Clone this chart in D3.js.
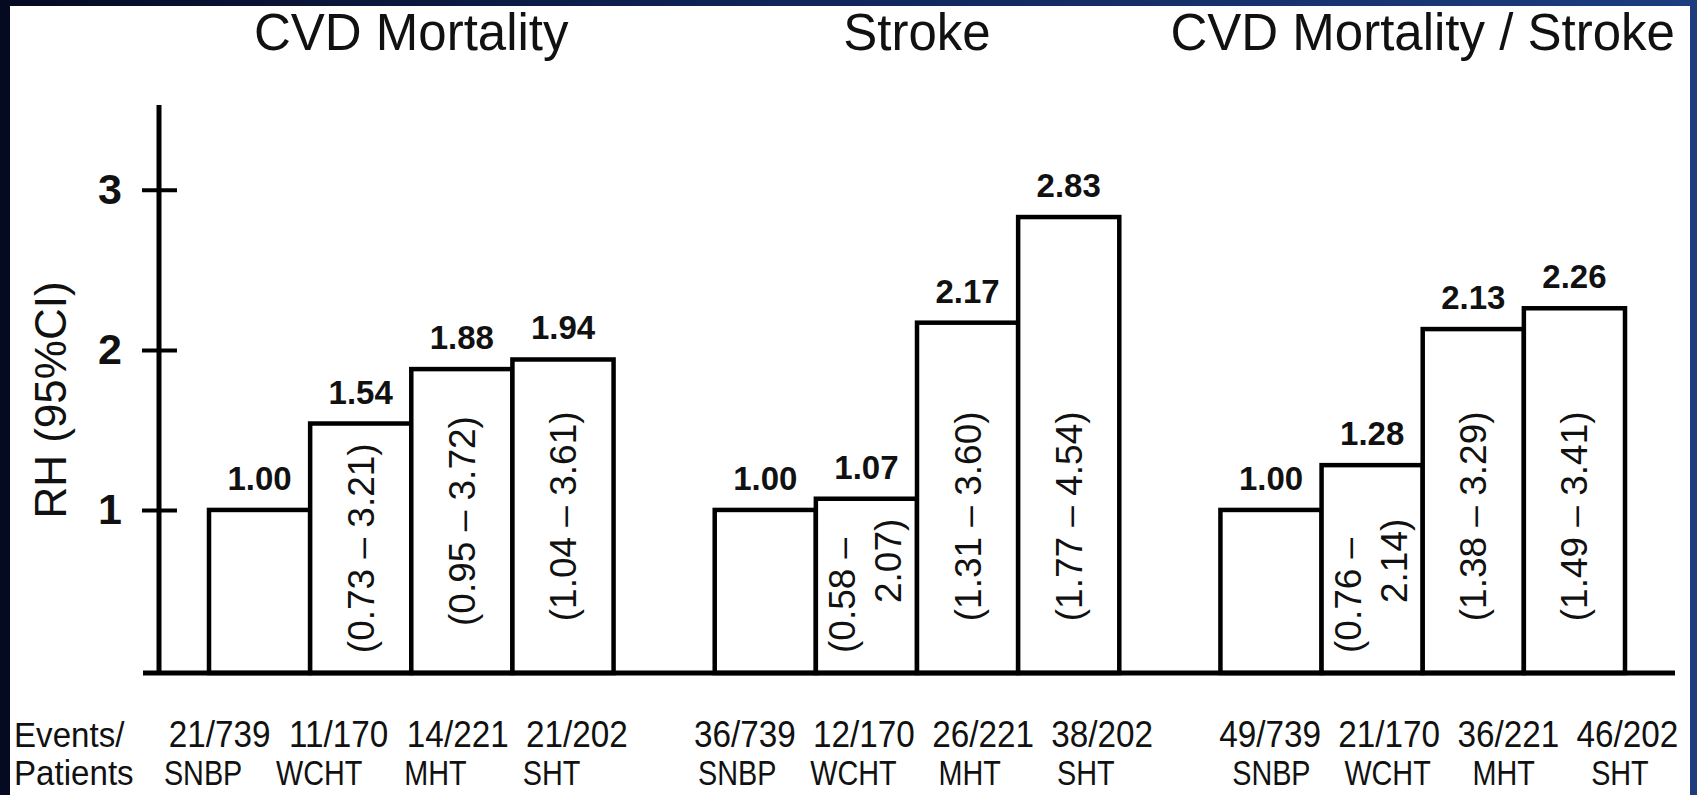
<!DOCTYPE html>
<html><head><meta charset="utf-8">
<script src="https://cdn.jsdelivr.net/npm/d3@7"></script>
<style>html,body{margin:0;padding:0;background:#0b1438;} svg{display:block;}</style>
</head><body>
<svg id="chart" width="1697" height="795"></svg>
<script>
// ---------------- data ----------------
const groups = ["CVD Mortality", "Stroke", "CVD Mortality / Stroke"];
const categories = ["SNBP", "WCHT", "MHT", "SHT"];
const cvdValues = [1.00, 1.54, 1.88, 1.94];
const strokeValues = [1.00, 1.07, 2.17, 2.83];
const combinedValues = [1.00, 1.28, 2.13, 2.26];
const cvdCI = ["", "(0.73 – 3.21)", "(0.95 – 3.72)", "(1.04 – 3.61)"];
const strokeCI = ["", "(0.58 – 2.07)", "(1.31 – 3.60)", "(1.77 – 4.54)"];
const combinedCI = ["", "(0.76 – 2.14)", "(1.38 – 3.29)", "(1.49 – 3.41)"];
const cvdEvents = ["21/739", "11/170", "14/221", "21/202"];
const strokeEvents = ["36/739", "12/170", "26/221", "38/202"];
const combinedEvents = ["49/739", "21/170", "36/221", "46/202"];
const yTicks = [1, 2, 3];
const yLabel = "RH (95%CI)";
const rowLabels = ["Events/", "Patients"];

const valueSets = [cvdValues, strokeValues, combinedValues];
const ciSets = [cvdCI, strokeCI, combinedCI];
const eventSets = [cvdEvents, strokeEvents, combinedEvents];
const series = groups.map((g, i) => ({
  group: g,
  bars: categories.map((c, j) => ({ group: g, cat: c, value: valueSets[i][j], ci: ciSets[i][j], events: eventSets[i][j] }))
}));

// ---------------- layout ----------------
const W = 1697, H = 795;
const FONT = "'Liberation Sans', Arial, Helvetica, sans-serif";
const svg = d3.select("#chart");
const defs = svg.append("defs");
const grad = defs.append("linearGradient").attr("id", "frame").attr("x1", 0).attr("x2", 1).attr("y1", 0).attr("y2", 0);
grad.append("stop").attr("offset", "0%").attr("stop-color", "#050a22");
grad.append("stop").attr("offset", "45%").attr("stop-color", "#0f2458");
grad.append("stop").attr("offset", "100%").attr("stop-color", "#1d3d80");
svg.append("rect").attr("width", W).attr("height", H).attr("fill", "url(#frame)");
svg.append("rect").attr("x", 10).attr("y", 6).attr("width", 1680).attr("height", H - 6).attr("fill", "#ffffff");

const yMax = 3.53;
const y = d3.scaleLinear().domain([0, yMax]).range([670, 105]);
const baseY = y(0) + 3;

const outer = d3.scaleBand().domain(groups).range([209, 1625]).paddingInner(0.2).paddingOuter(0);
const inner = d3.scaleBand().domain(categories).range([0, outer.bandwidth()]).padding(0);
// label rows (the source set them slightly wider than the bars)
const row1Outer = d3.scaleBand().domain(groups).range([160, 1687]).paddingInner(0.093).paddingOuter(0);
const row1Inner = d3.scaleBand().domain(categories).range([0, row1Outer.bandwidth()]).padding(0);
const row2Outer = d3.scaleBand().domain(groups).range([145, 1678]).paddingInner(0.13).paddingOuter(0);
const row2Inner = d3.scaleBand().domain(categories).range([0, row2Outer.bandwidth()]).padding(0);

// titles
svg.append("g").selectAll("text").data(groups).join("text")
  .attr("x", d => outer(d) + outer.bandwidth() / 2)
  .attr("y", 50)
  .attr("text-anchor", "middle")
  .style("font-family", FONT).style("font-size", "51px").attr("fill", "#111")
  .text(d => d);

// y axis
const axisX = 159;
const yAxis = d3.axisLeft(y).tickValues(yTicks).tickFormat(d3.format("d")).tickSize(17).tickPadding(20);
const ag = svg.append("g").attr("transform", `translate(${axisX},0)`).call(yAxis);
ag.select(".domain").remove();
ag.selectAll(".tick line").attr("x1", 18).attr("stroke", "#000").attr("stroke-width", 4);
ag.selectAll(".tick text").style("font-family", FONT).style("font-size", "43px").style("font-weight", "bold").attr("fill", "#111");
svg.append("line").attr("x1", axisX).attr("x2", axisX).attr("y1", y(yMax)).attr("y2", baseY + 2)
  .attr("stroke", "#000").attr("stroke-width", 5);

svg.append("text")
  .attr("transform", `translate(66,400) rotate(-90)`)
  .attr("text-anchor", "middle")
  .style("font-family", FONT).style("font-size", "44px").attr("fill", "#111")
  .text(yLabel);

// bars
const gGroups = svg.append("g").selectAll("g").data(series).join("g")
  .attr("transform", d => `translate(${outer(d.group)},0)`);

gGroups.selectAll("rect").data(d => d.bars).join("rect")
  .attr("x", d => inner(d.cat))
  .attr("y", d => y(d.value))
  .attr("width", inner.bandwidth())
  .attr("height", d => baseY - y(d.value))
  .attr("fill", "#fff").attr("stroke", "#000").attr("stroke-width", 4.5);

// value labels
gGroups.selectAll("text.val").data(d => d.bars).join("text").attr("class", "val")
  .attr("x", d => inner(d.cat) + inner.bandwidth() / 2)
  .attr("y", d => y(d.value) - 20)
  .attr("text-anchor", "middle")
  .style("font-family", FONT).style("font-size", "33px").style("font-weight", "bold").attr("fill", "#111")
  .text(d => d.value.toFixed(2));

// CI labels (rotated)
gGroups.each(function(gd) {
  const g = d3.select(this);
  gd.bars.filter(b => b.ci).forEach(b => {
    const cx = inner(b.cat) + inner.bandwidth() / 2;
    const barH = baseY - y(b.value);
    const lg = g.append("g").attr("transform", `translate(${cx},${baseY}) rotate(-90)`);
    const t = lg.append("text")
      .style("font-family", FONT).style("font-size", "37px").attr("fill", "#111")
      .attr("dy", "0.35em").text(b.ci);
    const len = t.node().getComputedTextLength();
    if (len + 30 <= barH) {
      const cy = Math.max(y(0.96), (y(b.value) + baseY) / 2);
      t.attr("x", baseY - cy).attr("y", 0).attr("text-anchor", "middle");
    } else {
      t.remove();
      const idx = b.ci.indexOf("–") + 1;
      const l1 = b.ci.slice(0, idx), l2 = b.ci.slice(idx).trim();
      lg.append("text").attr("x", 20).attr("y", -24).attr("dy", "0.35em").attr("text-anchor", "start")
        .style("font-family", FONT).style("font-size", "37px").attr("fill", "#111").text(l1);
      lg.append("text").attr("x", 70).attr("y", 22).attr("dy", "0.35em").attr("text-anchor", "start")
        .style("font-family", FONT).style("font-size", "37px").attr("fill", "#111").text(l2);
    }
  });
});

// baseline
svg.append("line").attr("x1", 143).attr("x2", 1675).attr("y1", baseY).attr("y2", baseY)
  .attr("stroke", "#000").attr("stroke-width", 5);

// bottom labels
const rowY = [747, 785];
svg.append("g").selectAll("text").data(rowLabels).join("text")
  .attr("transform", (d, i) => `translate(14,${rowY[i]}) scale(0.92,1)`)
  .style("font-family", FONT).style("font-size", "36px").attr("fill", "#111")
  .text(d => d);

const l1Groups = svg.append("g").selectAll("g").data(series).join("g")
  .attr("transform", d => `translate(${row1Outer(d.group)},0)`);
l1Groups.selectAll("text.ev").data(d => d.bars).join("text").attr("class", "ev")
  .attr("transform", d => `translate(${row1Inner(d.cat) + row1Inner.bandwidth() / 2},${rowY[0]}) scale(0.9,1)`)
  .attr("text-anchor", "middle")
  .style("font-family", FONT).style("font-size", "37px").attr("fill", "#111")
  .text(d => d.events);

const l2Groups = svg.append("g").selectAll("g").data(series).join("g")
  .attr("transform", d => `translate(${row2Outer(d.group)},0)`);
l2Groups.selectAll("text.cat").data(d => d.bars).join("text").attr("class", "cat")
  .attr("transform", d => `translate(${row2Inner(d.cat) + row2Inner.bandwidth() / 2},${rowY[1]}) scale(0.8,1)`)
  .attr("text-anchor", "middle")
  .style("font-family", FONT).style("font-size", "36px").attr("fill", "#111")
  .text(d => d.cat);
</script>
</body></html>
